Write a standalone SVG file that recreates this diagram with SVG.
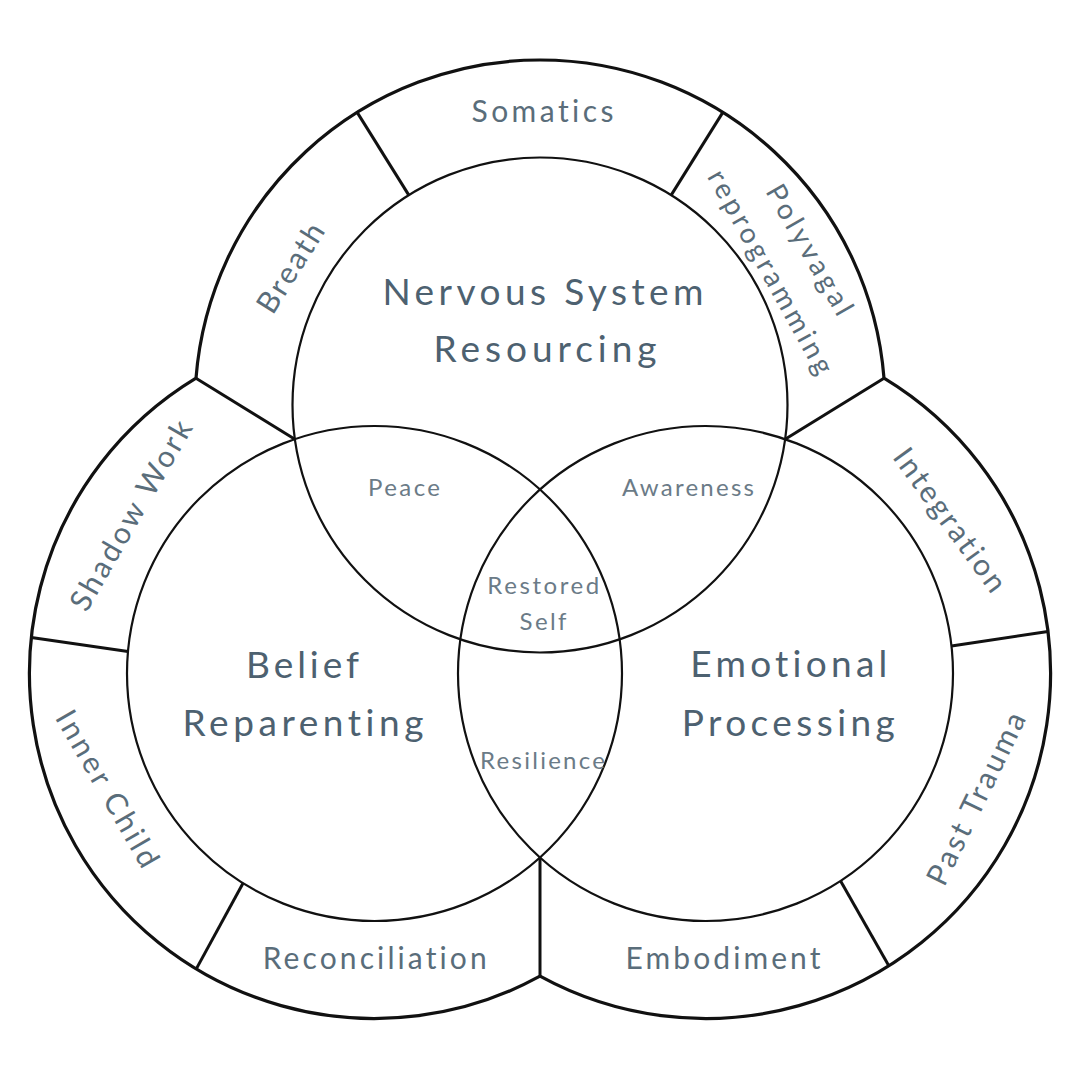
<svg xmlns="http://www.w3.org/2000/svg" width="1080" height="1080" viewBox="0 0 1080 1080">
  <defs>
    <style>
      .bg { fill: #ffffff; }
      .outer { fill: none; stroke: #111111; stroke-width: 3.2; stroke-linejoin: round; }
      .inner { fill: none; stroke: #111111; stroke-width: 2.2; }
      .div { stroke: #111111; stroke-width: 3; stroke-linecap: butt; }
      text { font-family: "Lato", "Liberation Sans", sans-serif; font-weight: 400; font-variant-ligatures: none; font-feature-settings: "liga" 0, "clig" 0, "dlig" 0; }
      .main { font-size: 37px; fill: #4d6170; text-anchor: middle; }
      .ring { font-size: 30px; fill: #5a6d7a; text-anchor: middle; }
      .small { font-size: 24px; fill: #6b7b87; text-anchor: middle; }
    </style>
  </defs>
  <rect class="bg" x="0" y="0" width="1080" height="1080"/>

  <!-- outer trefoil boundary -->
  <path id="outer-boundary" class="outer" d="M 196 378.2 A 345 345 0 0 1 540 60 A 345 345 0 0 1 884 378.2 A 345 345 0 0 1 1004.6 845.5 A 345 345 0 0 1 540 976.2 A 345 345 0 0 1 75.4 845.5 A 345 345 0 0 1 196 378.2 Z"/>

  <!-- connectors: dividers and junction lines -->
  <g id="connectors">
    <line class="div" x1="196" y1="378.2" x2="294.9" y2="439.2"/>
    <line class="div" x1="884" y1="378.2" x2="785.1" y2="439.2"/>
    <line class="div" x1="540" y1="857.5" x2="540" y2="976.2"/>
    <line class="div" x1="357.2" y1="112.4" x2="408.8" y2="195.1"/>
    <line class="div" x1="722.8" y1="112.4" x2="671.2" y2="195.1"/>
    <line class="div" x1="31.4" y1="637.4" x2="128" y2="651.5"/>
    <line class="div" x1="196.3" y1="968.9" x2="243" y2="883.2"/>
    <line class="div" x1="1048" y1="631.5" x2="951.5" y2="646.1"/>
    <line class="div" x1="888.8" y1="965.8" x2="840.6" y2="880.9"/>
  </g>

  <!-- inner circles -->
  <g id="node-nervous-system">
    <circle class="inner" cx="540" cy="405" r="247.5"/>
    <text class="main" x="543" y="305" textLength="321" lengthAdjust="spacing">Nervous System</text>
    <text class="main" x="545" y="362" textLength="223" lengthAdjust="spacing">Resourcing</text>
  </g>
  <g id="node-belief">
    <circle class="inner" cx="374.5" cy="673.5" r="247.5"/>
    <text class="main" x="302.5" y="678" textLength="113" lengthAdjust="spacing">Belief</text>
    <text class="main" x="303" y="736" textLength="241" lengthAdjust="spacing">Reparenting</text>
  </g>
  <g id="node-emotional">
    <circle class="inner" cx="705.5" cy="673.5" r="247.5"/>
    <text class="main" x="788.8" y="677" textLength="197" lengthAdjust="spacing">Emotional</text>
    <text class="main" x="788.3" y="735.5" textLength="213" lengthAdjust="spacing">Processing</text>
  </g>

  <!-- overlap labels -->
  <g id="node-peace"><text class="small" x="404" y="495.7" textLength="72" lengthAdjust="spacing">Peace</text></g>
  <g id="node-awareness"><text class="small" x="688" y="495.7" textLength="132" lengthAdjust="spacing">Awareness</text></g>
  <g id="node-restored-self">
    <text class="small" x="543.3" y="594" textLength="112" lengthAdjust="spacing">Restored</text>
    <text class="small" x="543" y="630" textLength="47" lengthAdjust="spacing">Self</text>
  </g>
  <g id="node-resilience"><text class="small" x="542.5" y="769" textLength="125" lengthAdjust="spacing">Resilience</text></g>

  <!-- ring segment labels -->
  <g id="node-somatics"><text class="ring" x="542.5" y="121.7" textLength="142" lengthAdjust="spacing">Somatics</text></g>
  <g id="node-breath"><text class="ring" transform="translate(291.3 268.3) rotate(-58)" x="0" y="0" dy="9.5" textLength="100" lengthAdjust="spacing">Breath</text></g>
  <g id="node-polyvagal">
    <text class="ring" style="font-size:28px" transform="translate(809.2 250) rotate(60)" x="0" y="0" dy="9" textLength="146" lengthAdjust="spacing">Polyvagal</text>
    <text class="ring" style="font-size:28px" transform="translate(768.3 273.3) rotate(61)" x="0" y="0" dy="7" textLength="229" lengthAdjust="spacing">reprogramming</text>
  </g>
  <g id="node-shadow-work"><text class="ring" transform="translate(131.7 515.8) rotate(-60)" x="0" y="0" dy="9.5" textLength="214" lengthAdjust="spacing">Shadow Work</text></g>
  <g id="node-inner-child"><text class="ring" transform="translate(106.7 789) rotate(60)" x="0" y="0" dy="9.5" textLength="176" lengthAdjust="spacing">Inner Child</text></g>
  <g id="node-reconciliation"><text class="ring" x="374.7" y="969.3" textLength="224" lengthAdjust="spacing">Reconciliation</text></g>
  <g id="node-embodiment"><text class="ring" x="723" y="969.3" textLength="195" lengthAdjust="spacing">Embodiment</text></g>
  <g id="node-integration"><text class="ring" transform="translate(949.3 520.4) rotate(54)" x="0" y="0" dy="9.5" textLength="170" lengthAdjust="spacing">Integration</text></g>
  <g id="node-past-trauma"><text class="ring" transform="translate(976.8 799) rotate(-64)" x="0" y="0" dy="9.5" textLength="188" lengthAdjust="spacing">Past Trauma</text></g>
</svg>
